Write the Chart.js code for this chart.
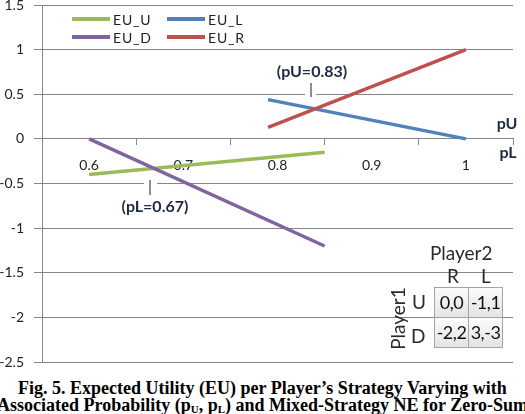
<!DOCTYPE html>
<html>
<head>
<meta charset="utf-8">
<script src="https://cdn.jsdelivr.net/npm/chart.js@4.4.1/dist/chart.umd.min.js"></script>
<style>
  html, body { margin: 0; padding: 0; background: #fff; overflow: hidden; }
  #wrap { position: relative; width: 525px; height: 414px; overflow: hidden; }
  #box { position: absolute; left: 0; top: 0; width: 525px; height: 372px; }
  .t { position: absolute; font-family: Lato, "Open Sans", sans-serif; color: #2b2b2b; white-space: nowrap; }
  .cell { position: absolute; width: 35px; height: 31px; box-sizing: border-box; border: 1px solid #a3a3a3;
          background: linear-gradient(#fbfbfb, #e4e4e4); font: 18px/29px Lato, sans-serif; color: #111;
          text-align: center; letter-spacing: -0.5px; overflow: visible; }
  .caption { position: absolute; left: -150px; width: 825px; top: 380px; text-align: center;
             font: bold 18px/17px "Liberation Serif", "Times New Roman", serif; color: #000; white-space: nowrap; }
  .caption sub { font-size: 11px; vertical-align: baseline; position: relative; top: 2px; }
</style>
</head>
<body>
<div id="wrap">
  <div id="box"><canvas id="chart"></canvas></div>

  <div class="t" style="left:430px; top:241px; font-size:19px;">Player2</div>
  <div class="t" style="left:447px; top:264px; font-size:19px;">R</div>
  <div class="t" style="left:481px; top:264px; font-size:19px;">L</div>
  <div class="t" style="left:362px; top:307px; font-size:19px; width:70px; text-align:center; transform:rotate(-90deg);">Player1</div>
  <div class="t" style="left:412px; top:290px; font-size:19px;">U</div>
  <div class="t" style="left:411px; top:324px; font-size:19px;">D</div>
  <div class="cell" style="left:434px; top:287px;">0,0</div>
  <div class="cell" style="left:468px; top:287px;">-1,1</div>
  <div class="cell" style="left:434px; top:317px;">-2,2</div>
  <div class="cell" style="left:468px; top:317px;">3,-3</div>

  <div class="caption">Fig. 5. Expected Utility (EU) per Player’s Strategy Varying with<br>Associated Probability (p<sub>U</sub>, p<sub>L</sub>) and Mixed-Strategy NE for Zero-Sum</div>
</div>

<script>
// player 1 lines over pL, player 2 lines over pU
const pL = [0.6, 0.85];
const euU = [-0.4, -0.15];
const euD = [0, -1.2];
const pU = [0.79, 1];
const euL = [0.44, 0];
const euR = [0.13, 1];

const xTickValues = [0.6, 0.7, 0.8, 0.9, 1];
const seriesNames = ['EU_U', 'EU_L', 'EU_D', 'EU_R'];
const seriesColors = ['#9bbb59', '#4f81bd', '#8064a2', '#c0504d'];

const GRID = '#868686';
const FONT = 'Lato, "Open Sans", sans-serif';

const pts = (xs, ys) => xs.map((x, i) => ({ x: x, y: ys[i] }));

// legend drawn 2 x 2 inside the plot, like the excel one
const legendBox = {
    id: 'legendBox',
    afterDraw(chart) {
        const ctx = chart.ctx;
        ctx.save();
        ctx.font = '14px ' + FONT;
        ctx.letterSpacing = '0.8px';
        ctx.textBaseline = 'middle';
        ctx.textAlign = 'left';
        chart.data.datasets.forEach((ds, i) => {
            const x0 = 72 + (i % 2) * 95;
            const y = 19 + Math.floor(i / 2) * 18;
            ctx.strokeStyle = ds.borderColor;
            ctx.lineWidth = 4;
            ctx.beginPath();
            ctx.moveTo(x0, y);
            ctx.lineTo(x0 + 38, y);
            ctx.stroke();
            ctx.fillStyle = '#222';
            ctx.fillText(ds.label, x0 + 41, y + 1);
        });
        ctx.restore();
    }
};

// NE callouts and axis names
const notes = {
    id: 'notes',
    afterDraw(chart) {
        const ctx = chart.ctx;
        ctx.save();
        // little leader ticks, with a white gap in the gridline
        ctx.fillStyle = '#fff';
        ctx.fillRect(305, 92, 11, 4);
        ctx.fillRect(144, 181, 13, 6);
        ctx.strokeStyle = '#444';
        ctx.lineWidth = 1.2;
        ctx.beginPath();
        ctx.moveTo(311, 83); ctx.lineTo(311, 97);
        ctx.moveTo(150, 180); ctx.lineTo(150, 195);
        ctx.stroke();

        ctx.fillStyle = '#1c2a44';
        ctx.font = 'bold 16px ' + FONT;
        ctx.textAlign = 'center';
        ctx.textBaseline = 'middle';
        ctx.fillText('(pU=0.83)', 312, 72);
        ctx.fillText('(pL=0.67)', 155, 207);
        ctx.fillText('pU', 507, 124);
        ctx.fillText('pL', 508, 153);
        ctx.restore();
    }
};

new Chart(document.getElementById('chart'), {
    type: 'line',
    data: {
        datasets: [
            { label: seriesNames[0], data: pts(pL, euU), borderColor: seriesColors[0], order: 1 },
            { label: seriesNames[1], data: pts(pU, euL), borderColor: seriesColors[1], order: 1 },
            { label: seriesNames[2], data: pts(pL, euD), borderColor: seriesColors[2], order: 0 },
            { label: seriesNames[3], data: pts(pU, euR), borderColor: seriesColors[3], order: 0 }
        ]
    },
    plugins: [legendBox, notes],
    options: {
        responsive: true,
        maintainAspectRatio: false,
        animation: false,
        layout: { padding: { left: 0, right: 3, top: 0, bottom: 10 } },
        elements: {
            line: { borderWidth: 3.5, tension: 0, borderCapStyle: 'butt' },
            point: { radius: 0 }
        },
        plugins: { legend: { display: false }, tooltip: { enabled: false } },
        scales: {
            x: {
                type: 'linear',
                position: { y: 0 },
                min: 0.55,
                max: 1.05,
                afterBuildTicks: (scale) => {
                    const t = [];
                    for (let k = 11; k <= 21; k++) t.push({ value: k / 20 });
                    scale.ticks = t;
                },
                ticks: {
                    autoSkip: false,
                    maxRotation: 0,
                    padding: 12,
                    color: '#222',
                    font: { family: FONT, size: 14 },
                    callback: (v) => {
                        const hit = xTickValues.find(t => Math.abs(t - v) < 1e-6);
                        return hit === undefined ? '' : String(hit);
                    }
                },
                grid: {
                    drawOnChartArea: false,
                    tickLength: 6,
                    color: (c) => (Math.round(c.tick.value * 20) % 2 === 1 ? GRID : 'rgba(0,0,0,0)')
                },
                border: { color: GRID, width: 1 }
            },
            y: {
                min: -2.5,
                max: 1.5,
                afterFit: (scale) => {
                    scale.width = 42;
                    scale.paddingTop = 5;
                    scale.paddingBottom = 0;
                },
                ticks: {
                    stepSize: 0.5,
                    padding: 10,
                    color: '#222',
                    font: { family: FONT, size: 14 },
                    callback: (v) => String(Math.round(v * 10) / 10)
                },
                grid: { color: GRID, tickLength: 8 },
                border: { color: GRID, width: 1 }
            }
        }
    }
});
</script>
</body>
</html>
